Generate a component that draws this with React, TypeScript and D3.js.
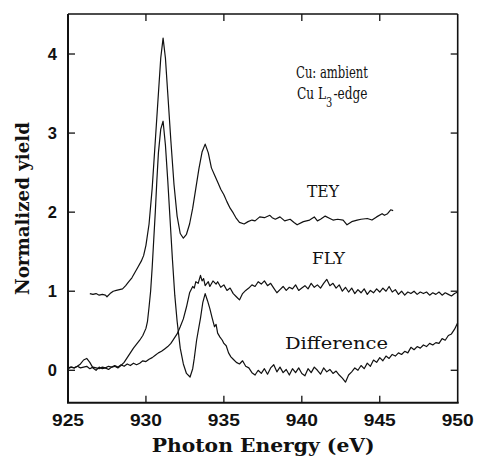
import React from 'react';
import * as d3 from 'd3';

type P = [number, number];

const xTicks = [925, 930, 935, 940, 945, 950];
const yTicks = [0, 1, 2, 3, 4];

// TEY (offset +1), Photon energy (eV) vs normalized yield
const teyData: P[] = [
  [926.4, 0.97], [926.6, 0.96], [926.8, 0.97], [927.0, 0.95], [927.2, 0.96], [927.4, 0.95],
  [927.5, 0.93], [927.7, 0.97], [927.9, 1.0], [928.1, 1.01], [928.3, 1.02], [928.5, 1.03],
  [928.7, 1.07], [928.9, 1.12], [929.1, 1.17], [929.3, 1.24], [929.5, 1.31], [929.7, 1.38],
  [929.85, 1.45], [930.0, 1.58], [930.2, 1.85], [930.4, 2.3], [930.6, 2.9], [930.8, 3.5],
  [930.95, 3.95], [931.1, 4.2], [931.25, 3.95], [931.4, 3.5], [931.6, 2.9], [931.8, 2.35],
  [932.0, 1.95], [932.2, 1.73], [932.4, 1.67], [932.6, 1.72], [932.8, 1.85], [933.0, 2.05],
  [933.2, 2.3], [933.4, 2.55], [933.6, 2.76], [933.8, 2.86], [934.0, 2.75], [934.2, 2.56],
  [934.4, 2.47], [934.6, 2.38], [934.8, 2.29], [935.0, 2.22], [935.2, 2.13], [935.4, 2.05],
  [935.6, 1.99], [935.8, 1.92], [936.0, 1.87], [936.3, 1.85], [936.55, 1.88], [936.8, 1.9],
  [937.0, 1.89], [937.3, 1.94], [937.6, 1.93], [937.95, 1.96], [938.1, 1.93], [938.3, 1.91],
  [938.6, 1.94], [938.9, 1.89], [939.25, 1.91], [939.5, 1.87], [939.7, 1.84], [940.1, 1.88],
  [940.5, 1.9], [940.8, 1.94], [941.0, 1.89], [941.2, 1.91], [941.5, 1.95], [941.8, 1.92],
  [942.0, 1.9], [942.3, 1.91], [942.65, 1.9], [942.9, 1.84], [943.2, 1.88], [943.55, 1.9],
  [943.8, 1.91], [944.2, 1.92], [944.5, 1.9], [944.8, 1.94], [945.15, 1.98], [945.3, 1.96],
  [945.5, 1.98], [945.7, 2.03], [945.86, 2.02],
];

// FLY
const flyData: P[] = [
  [925.0, 0.03], [925.2, 0.04], [925.4, 0.03], [925.6, 0.05], [925.8, 0.03], [926.0, 0.04],
  [926.2, 0.05], [926.4, 0.02], [926.6, 0.04], [926.8, 0.03], [927.0, 0.02], [927.2, 0.04],
  [927.4, 0.03], [927.6, 0.05], [927.8, 0.04], [928.0, 0.06], [928.2, 0.04], [928.4, 0.07],
  [928.6, 0.05], [928.8, 0.08], [929.0, 0.06], [929.2, 0.09], [929.4, 0.07], [929.6, 0.09],
  [929.8, 0.12], [930.0, 0.11], [930.2, 0.14], [930.4, 0.16], [930.6, 0.19], [930.8, 0.22],
  [931.0, 0.24], [931.2, 0.27], [931.4, 0.3], [931.6, 0.34], [931.8, 0.4], [932.0, 0.46],
  [932.2, 0.55], [932.4, 0.65], [932.6, 0.8], [932.8, 0.98], [933.0, 1.06], [933.1, 1.04],
  [933.2, 1.12], [933.35, 1.1], [933.5, 1.2], [933.6, 1.13], [933.7, 1.16], [933.8, 1.07],
  [934.0, 1.12], [934.1, 1.06], [934.3, 1.13], [934.5, 1.09], [934.6, 1.12], [934.8, 1.05],
  [935.0, 1.08], [935.2, 1.01], [935.4, 1.04], [935.6, 0.97], [935.8, 0.93], [936.0, 0.89],
  [936.2, 0.97], [936.4, 1.01], [936.6, 1.04], [936.8, 1.08], [937.0, 1.06], [937.2, 1.12],
  [937.4, 1.09], [937.6, 1.13], [937.8, 1.07], [938.0, 1.1], [938.2, 1.04], [938.4, 0.98],
  [938.6, 1.02], [938.8, 1.06], [939.0, 1.01], [939.2, 1.05], [939.4, 1.03], [939.6, 1.08],
  [939.8, 1.01], [940.0, 1.04], [940.2, 1.07], [940.4, 1.03], [940.6, 1.1], [940.8, 1.05],
  [941.0, 1.08], [941.2, 1.04], [941.4, 1.1], [941.6, 1.15], [941.8, 1.07], [942.0, 1.1],
  [942.2, 1.04], [942.4, 1.08], [942.6, 1.0], [942.8, 1.05], [943.0, 0.99], [943.2, 1.04],
  [943.4, 0.97], [943.6, 1.02], [943.8, 0.98], [944.0, 1.03], [944.2, 0.96], [944.4, 1.01],
  [944.6, 0.98], [944.8, 1.03], [945.0, 0.99], [945.2, 1.04], [945.4, 1.0], [945.6, 1.06],
  [945.8, 0.99], [946.0, 1.02], [946.2, 0.96], [946.4, 1.0], [946.6, 0.95], [946.8, 0.99],
  [947.0, 0.97], [947.2, 1.0], [947.4, 0.96], [947.6, 0.99], [947.8, 0.97], [948.0, 0.99],
  [948.2, 0.95], [948.4, 0.98], [948.6, 0.96], [948.8, 0.99], [949.0, 0.95], [949.2, 0.98],
  [949.4, 0.96], [949.6, 0.94], [949.8, 0.97], [950.0, 0.99],
];

// Difference
const diffData: P[] = [
  [925.0, 0.02], [925.2, 0.04], [925.4, 0.03], [925.6, 0.05], [925.8, 0.08], [926.0, 0.13],
  [926.2, 0.15], [926.4, 0.1], [926.6, 0.03], [926.8, 0.0], [927.0, 0.04], [927.2, 0.02],
  [927.4, 0.03], [927.6, 0.01], [927.8, 0.04], [928.0, 0.05], [928.2, 0.03], [928.4, 0.06],
  [928.6, 0.1], [928.8, 0.16], [929.0, 0.22], [929.2, 0.28], [929.4, 0.33], [929.6, 0.38],
  [929.8, 0.44], [930.0, 0.53], [930.1, 0.62], [930.2, 0.8], [930.3, 1.0], [930.4, 1.3],
  [930.5, 1.65], [930.6, 2.0], [930.7, 2.4], [930.8, 2.75], [930.95, 3.05], [931.1, 3.15],
  [931.25, 2.85], [931.4, 2.4], [931.55, 1.9], [931.7, 1.4], [931.85, 0.95], [932.0, 0.62],
  [932.2, 0.28], [932.4, 0.08], [932.6, -0.04], [932.83, -0.085], [933.0, 0.02], [933.1, 0.15],
  [933.25, 0.38], [933.4, 0.55], [933.5, 0.66], [933.65, 0.86], [933.8, 0.97], [933.95, 0.88],
  [934.1, 0.78], [934.25, 0.66], [934.4, 0.55], [934.5, 0.58], [934.6, 0.47], [934.75, 0.42],
  [934.9, 0.38], [935.0, 0.34], [935.15, 0.31], [935.3, 0.22], [935.45, 0.17], [935.6, 0.14],
  [935.8, 0.1], [936.0, 0.08], [936.2, 0.12], [936.4, 0.05], [936.6, 0.03], [936.8, -0.03],
  [937.0, -0.06], [937.2, 0.0], [937.4, -0.04], [937.6, 0.02], [937.8, -0.05], [938.0, 0.03],
  [938.2, 0.07], [938.4, -0.02], [938.6, 0.04], [938.8, -0.03], [939.0, 0.01], [939.2, -0.06],
  [939.4, 0.02], [939.6, -0.03], [939.8, 0.03], [940.0, -0.04], [940.2, -0.07], [940.4, 0.02],
  [940.6, -0.03], [940.8, 0.04], [941.0, 0.0], [941.2, -0.05], [941.4, 0.03], [941.6, -0.02],
  [941.8, 0.01], [942.0, -0.04], [942.2, -0.01], [942.4, -0.06], [942.6, -0.1], [942.8, -0.15],
  [943.0, -0.06], [943.2, -0.02], [943.4, 0.03], [943.6, 0.0], [943.8, 0.06], [944.0, 0.02],
  [944.2, 0.09], [944.4, 0.05], [944.6, 0.13], [944.8, 0.1], [945.0, 0.16], [945.2, 0.12],
  [945.4, 0.18], [945.6, 0.15], [945.8, 0.2], [946.0, 0.18], [946.2, 0.22], [946.4, 0.2],
  [946.6, 0.24], [946.8, 0.22], [947.0, 0.29], [947.2, 0.26], [947.4, 0.3], [947.6, 0.28],
  [947.8, 0.32], [948.0, 0.3], [948.2, 0.34], [948.4, 0.32], [948.6, 0.35], [948.8, 0.34],
  [949.0, 0.4], [949.2, 0.38], [949.4, 0.44], [949.6, 0.46], [949.8, 0.52], [950.0, 0.6],
];

const xTitle = 'Photon Energy (eV)';
const yTitle = 'Normalized yield';

export default function App() {
  const W = 477;
  const H = 464;
  const L = 68, R = 457.7, T = 14, B = 402.7;
  const x = d3.scaleLinear().domain([925, 950]).range([L, R]);
  const y = d3.scaleLinear().domain([-0.41, 4.506]).range([B, T]);
  const line = d3.line<P>().x((d) => x(d[0])).y((d) => y(d[1]));
  const tk = 7;
  const serif = '"DejaVu Serif", "Liberation Serif", serif';
  const sans = '"Liberation Sans", Arial, sans-serif';

  return (
    <svg width={W} height={H} style={{ position: 'absolute', left: 0, top: 0, background: '#fff' }}>
      <rect x={0} y={0} width={W} height={H} fill="#fff" />
      {/* curves */}
      <g fill="none" stroke="#111" strokeWidth={1.2} strokeLinejoin="round">
        <path d={line(teyData) || ''} />
        <path d={line(flyData) || ''} />
        <path d={line(diffData) || ''} />
      </g>
      {/* frame */}
      <g stroke="#111" fill="none">
        <line x1={L} y1={T} x2={L} y2={B} strokeWidth={2} />
        <line x1={L - 1} y1={B} x2={R + 1} y2={B} strokeWidth={2} />
        <line x1={L} y1={T} x2={R} y2={T} strokeWidth={1.6} />
        <line x1={R} y1={T} x2={R} y2={B} strokeWidth={1.6} />
        {xTicks.slice(1, -1).map((t) => (
          <g key={'xt' + t}>
            <line x1={x(t)} x2={x(t)} y1={B} y2={B - tk} strokeWidth={1.3} />
            <line x1={x(t)} x2={x(t)} y1={T} y2={T + tk} strokeWidth={1.3} />
          </g>
        ))}
        {yTicks.map((t) => (
          <g key={'yt' + t}>
            <line x1={L} x2={L + tk} y1={y(t)} y2={y(t)} strokeWidth={1.3} />
            <line x1={R} x2={R - tk} y1={y(t)} y2={y(t)} strokeWidth={1.3} />
          </g>
        ))}
      </g>
      {/* tick labels */}
      <g fontFamily={sans} fontWeight="bold" fontSize={16.5} fill="#111">
        {xTicks.map((t) => (
          <text key={'xl' + t} x={x(t) - 16} y={426} textLength={32} lengthAdjust="spacingAndGlyphs">
            {String(t)}
          </text>
        ))}
        {yTicks.map((t) => (
          <text key={'yl' + t} x={57} y={y(t) + 6} textAnchor="end">
            {String(t)}
          </text>
        ))}
      </g>
      {/* axis titles */}
      <text x={151.7} y={452} fontFamily={serif} fontWeight="bold" fontSize={18} textLength={223}
        lengthAdjust="spacingAndGlyphs" fill="#111">
        {xTitle}
      </text>
      <text transform="translate(29,295) rotate(-90)" x={0} y={0} fontFamily={serif} fontWeight="bold"
        fontSize={18} textLength={173} lengthAdjust="spacingAndGlyphs" fill="#111">
        {yTitle}
      </text>
      {/* annotations */}
      <g fontFamily={serif} fontSize={16} fill="#111">
        <text x={296} y={78} textLength={72} lengthAdjust="spacingAndGlyphs">Cu: ambient</text>
        <text transform="translate(297,99) scale(0.76,1)">Cu L</text>
        <text transform="translate(326,107) scale(0.76,1)" fontSize={13}>3</text>
        <text transform="translate(333.5,99) scale(0.76,1)">-edge</text>
        <text x={307} y={197} textLength={32} lengthAdjust="spacingAndGlyphs">TEY</text>
        <text x={312} y={264} textLength={33} lengthAdjust="spacingAndGlyphs">FLY</text>
        <text x={285} y={348.5} textLength={103} lengthAdjust="spacingAndGlyphs">Difference</text>
      </g>
    </svg>
  );
}
